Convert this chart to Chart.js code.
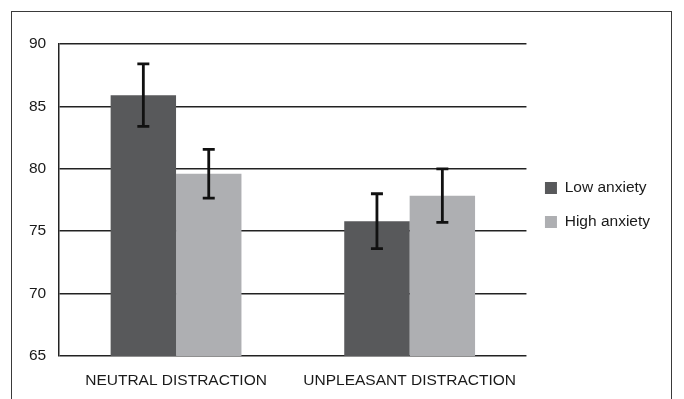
<!DOCTYPE html>
<html>
<head>
<meta charset="utf-8">
<script src="https://cdn.jsdelivr.net/npm/chart.js@4"></script>
<style>
    body { margin: 0; background: #fff; }
    #frame { position: absolute; left: 11px; top: 11px; width: 661px; height: 400px; border: 1.5px solid #3a3a3a; box-sizing: border-box; }
    #wrap { position: absolute; left: 0; top: 0; width: 684px; height: 399px; }
</style>
</head>
<body>
<div id="frame"></div>
<div id="wrap"><canvas id="anxietyChart"></canvas></div>
<script>
// data
var categories = ['NEUTRAL DISTRACTION', 'UNPLEASANT DISTRACTION'];
var lowAnxiety = [85.9, 75.8];
var highAnxiety = [79.6, 77.85];
var lowAnxietyErr = [2.5, 2.2];
var highAnxietyErr = [1.95, 2.15];
var yTicks = [65, 70, 75, 80, 85, 90];

const errorBars = {
    id: 'errorBars',
    afterDatasetsDraw: function(chart) {
        var ctx = chart.ctx;
        var yScale = chart.scales.y;
        chart.data.datasets.forEach(function(ds, d) {
            var meta = chart.getDatasetMeta(d);
            meta.data.forEach(function(bar, i) {
                var top = yScale.getPixelForValue(ds.data[i] + ds.errors[i]);
                var bottom = yScale.getPixelForValue(ds.data[i] - ds.errors[i]);
                ctx.save();
                ctx.strokeStyle = '#111';
                ctx.lineWidth = 2.8;
                ctx.beginPath();
                ctx.moveTo(bar.x, top);
                ctx.lineTo(bar.x, bottom);
                ctx.moveTo(bar.x - 6, top);
                ctx.lineTo(bar.x + 6, top);
                ctx.moveTo(bar.x - 6, bottom);
                ctx.lineTo(bar.x + 6, bottom);
                ctx.stroke();
                ctx.restore();
            });
        });
    }
};

Chart.defaults.font.family = "'Liberation Sans', Arial, sans-serif";
Chart.defaults.font.size = 15.5;
Chart.defaults.color = '#1a1a1a';

const data = {
    labels: categories,
    datasets: [{
        label: 'Low anxiety',
        data: lowAnxiety,
        errors: lowAnxietyErr,
        backgroundColor: '#58595b',
        categoryPercentage: 0.56,
        barPercentage: 1.0
    }, {
        label: 'High anxiety',
        data: highAnxiety,
        errors: highAnxietyErr,
        backgroundColor: '#aeafb2',
        categoryPercentage: 0.56,
        barPercentage: 1.0
    }]
};

const config = {
    type: 'bar',
    data: data,
    options: {
        responsive: true,
        maintainAspectRatio: false,
        animation: false,
        layout: { padding: { left: 16, top: 44, right: 24, bottom: 11 } },
        plugins: {
            legend: {
                position: 'right',
                fullSize: false,
                title: { display: true, text: ' ', font: { size: 8, lineHeight: 1 }, padding: 1 },
                labels: {
                    boxWidth: 12,
                    boxHeight: 12,
                    padding: 18.5,
                    color: '#1a1a1a'
                }
            },
            tooltip: { enabled: false }
        },
        scales: {
            x: {
                grid: { display: false },
                border: { display: false },
                ticks: { padding: 7 },
                afterFit: function(axis) {
                    axis.height = 32;
                }
            },
            y: {
                min: 65,
                max: 90,
                afterBuildTicks: function(axis) {
                    axis.ticks = yTicks.map(function(v) { return { value: v }; });
                },
                grid: { color: '#222', lineWidth: 1.5, drawTicks: false },
                border: { display: true, color: '#222', width: 1.5 },
                ticks: { padding: 13 }
            }
        }
    },
    plugins: [errorBars]
};

new Chart(document.getElementById('anxietyChart').getContext('2d'), config);
</script>
</body>
</html>
